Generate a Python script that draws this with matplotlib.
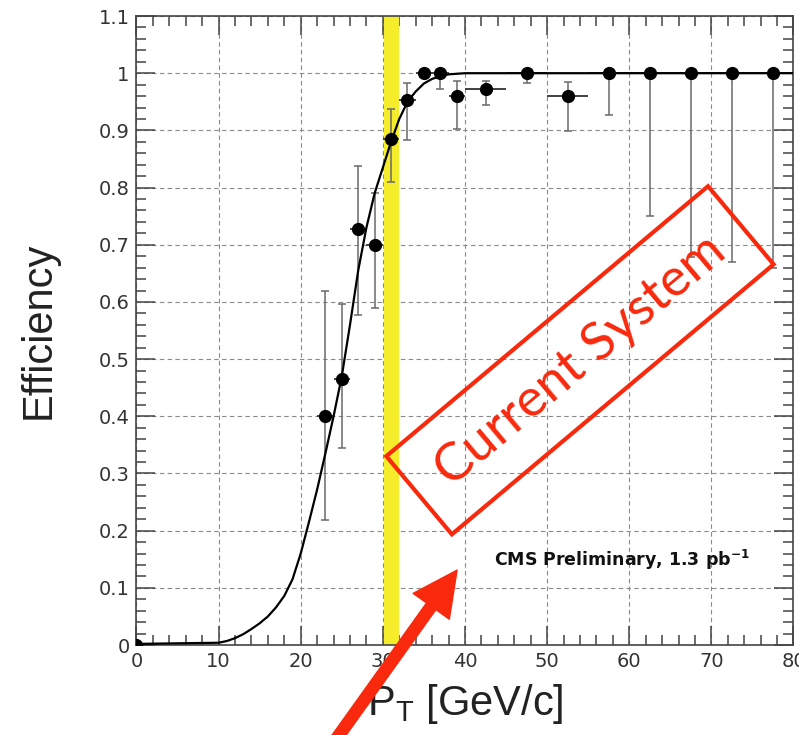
import matplotlib
matplotlib.use('Agg')
from matplotlib import pyplot as plt
from matplotlib.patches import Rectangle
from matplotlib.transforms import Affine2D, ScaledTranslation
from matplotlib.ticker import MultipleLocator, FormatStrFormatter

plt.rcParams['mathtext.default'] = 'regular'

# efficiency points (bin centre, half widths, value, error band ends)
pt = [0, 23, 25, 27, 29, 31, 33, 35, 37, 39, 42.5, 47.5, 52.5, 57.5, 62.5, 67.5, 72.5, 77.5]
pt_lo = [0, 1, 1, 1, 1, 1, 1, 1, 1, 1, 2.5, 2.5, 2.5, 2.5, 2.5, 2.5, 2.5, 2.5]
pt_hi = [2.8, 1, 1, 1, 1, 1, 1, 1, 1, 1, 2.5, 2.5, 2.5, 2.5, 2.5, 2.5, 2.5, 2.5]
eff = [0, 0.40, 0.466, 0.728, 0.70, 0.885, 0.954, 1.0, 1.0, 0.96, 0.973, 1.0, 0.96, 1.0, 1.0, 1.0, 1.0, 1.0]
eff_min = [0, 0.218, 0.344, 0.577, 0.59, 0.81, 0.883, 1.0, 0.973, 0.902, 0.944, 0.982, 0.899, 0.927, 0.75, 0.679, 0.669, 0.66]
eff_max = [0, 0.62, 0.597, 0.837, 0.79, 0.937, 0.982, 1.0, 1.0, 0.987, 0.987, 1.0, 0.984, 1.0, 1.0, 1.0, 1.0, 1.0]

# fit curve
fit_x = [0, 5, 10, 11, 12, 13, 14, 15, 16, 17, 18, 19, 20, 21, 22, 23, 24, 25, 26, 27,
         28, 29, 30, 31, 32, 33, 34, 35, 36, 37, 38, 40, 45, 80]
fit_y = [0.002, 0.003, 0.004, 0.007, 0.012, 0.019, 0.028, 0.038, 0.05, 0.066, 0.086, 0.115,
         0.16, 0.215, 0.272, 0.335, 0.40, 0.47, 0.56, 0.655, 0.73, 0.79, 0.835, 0.88, 0.92,
         0.95, 0.968, 0.982, 0.99, 0.995, 0.998, 1.0, 1.0, 1.0]

# yellow band, current threshold
band_lo, band_hi = 30.1, 32.0

red = '#f8290d'
grey = '#333333'

fig = plt.figure(figsize=(7.99, 7.35), dpi=100)
ax = fig.add_axes([0.1708, 0.1224, 0.8223, 0.8558])

ax.axvspan(band_lo, band_hi, color='#f5ec2c', zorder=1, lw=0)

err_dn = [e - m for e, m in zip(eff, eff_min)]
err_up = [m - e for e, m in zip(eff, eff_max)]
ax.errorbar(pt, eff, yerr=[err_dn, err_up], fmt='none', ecolor='#6a6a6a',
            elinewidth=1.1, capsize=3, capthick=1.1, zorder=2)
ax.errorbar(pt, eff, xerr=[pt_lo, pt_hi], fmt='none', ecolor='#333333',
            elinewidth=1.3, capsize=0, zorder=2)
ax.plot(fit_x, fit_y, color='black', lw=1.6, zorder=3)
ax.plot(pt, eff, 'o', color='black', ms=8.5, zorder=4)

ax.set_xlim(0, 80)
ax.set_ylim(0, 1.1)
ax.xaxis.set_major_locator(MultipleLocator(10))
ax.xaxis.set_minor_locator(MultipleLocator(2))
ax.yaxis.set_major_locator(MultipleLocator(0.1))
ax.yaxis.set_minor_locator(MultipleLocator(0.02))
ax.yaxis.set_major_formatter(FormatStrFormatter('%g'))

ax.grid(True, which='major', color='#8a8a8a', linestyle=(0, (4, 3)), linewidth=0.8, zorder=0)
ax.set_axisbelow(True)

ax.tick_params(which='both', direction='in', top=True, right=True, color='#444444', width=1.1)
ax.tick_params(which='major', length=13.5, labelsize=14, labelcolor=grey, pad=5)
ax.tick_params(which='minor', length=7)
for lab in ax.get_xticklabels() + ax.get_yticklabels():
    lab.set_family('DejaVu Sans')
for sp in ax.spines.values():
    sp.set_color('#444444')
    sp.set_linewidth(1.2)

ax.set_xlabel('P$_T$ [GeV/c]', fontsize=30, family='Liberation Sans', color='#222222')
ax.set_ylabel('Efficiency', fontsize=30, family='Liberation Sans', color='#222222')
ax.xaxis.set_label_coords(0.5, -0.058)
ax.yaxis.set_label_coords(-0.118, 0.5)

ax.text(59.1, 0.149, 'CMS Preliminary, 1.3 pb$^{-1}$', fontsize=12.5, fontweight='bold',
        family='DejaVu Sans', ha='center', va='center', color='#111111', zorder=5)

# red stamp: text plus a rotated frame (size in pixels)
stamp_x, stamp_y = 54.0, 0.498
ax.text(stamp_x, stamp_y, 'Current System', fontsize=38, family='Lato', color=red,
        rotation=40, rotation_mode='anchor', ha='center', va='center', zorder=6)
stamp_tr = Affine2D().rotate_deg(40) + ScaledTranslation(stamp_x, stamp_y, ax.transData)
ax.add_patch(Rectangle((-210, -51), 420, 102, transform=stamp_tr, fill=False,
                       ec=red, lw=3, clip_on=False, zorder=6))

# arrow pointing at the band
ax.annotate('', xy=(39.04, 0.131), xytext=(23.55, -0.18), annotation_clip=False,
            arrowprops=dict(arrowstyle='simple,head_length=32,head_width=32,tail_width=8.3',
                            mutation_scale=1, color=red, shrinkA=0, shrinkB=0),
            zorder=7)

fig.savefig('out.png', dpi=100)
